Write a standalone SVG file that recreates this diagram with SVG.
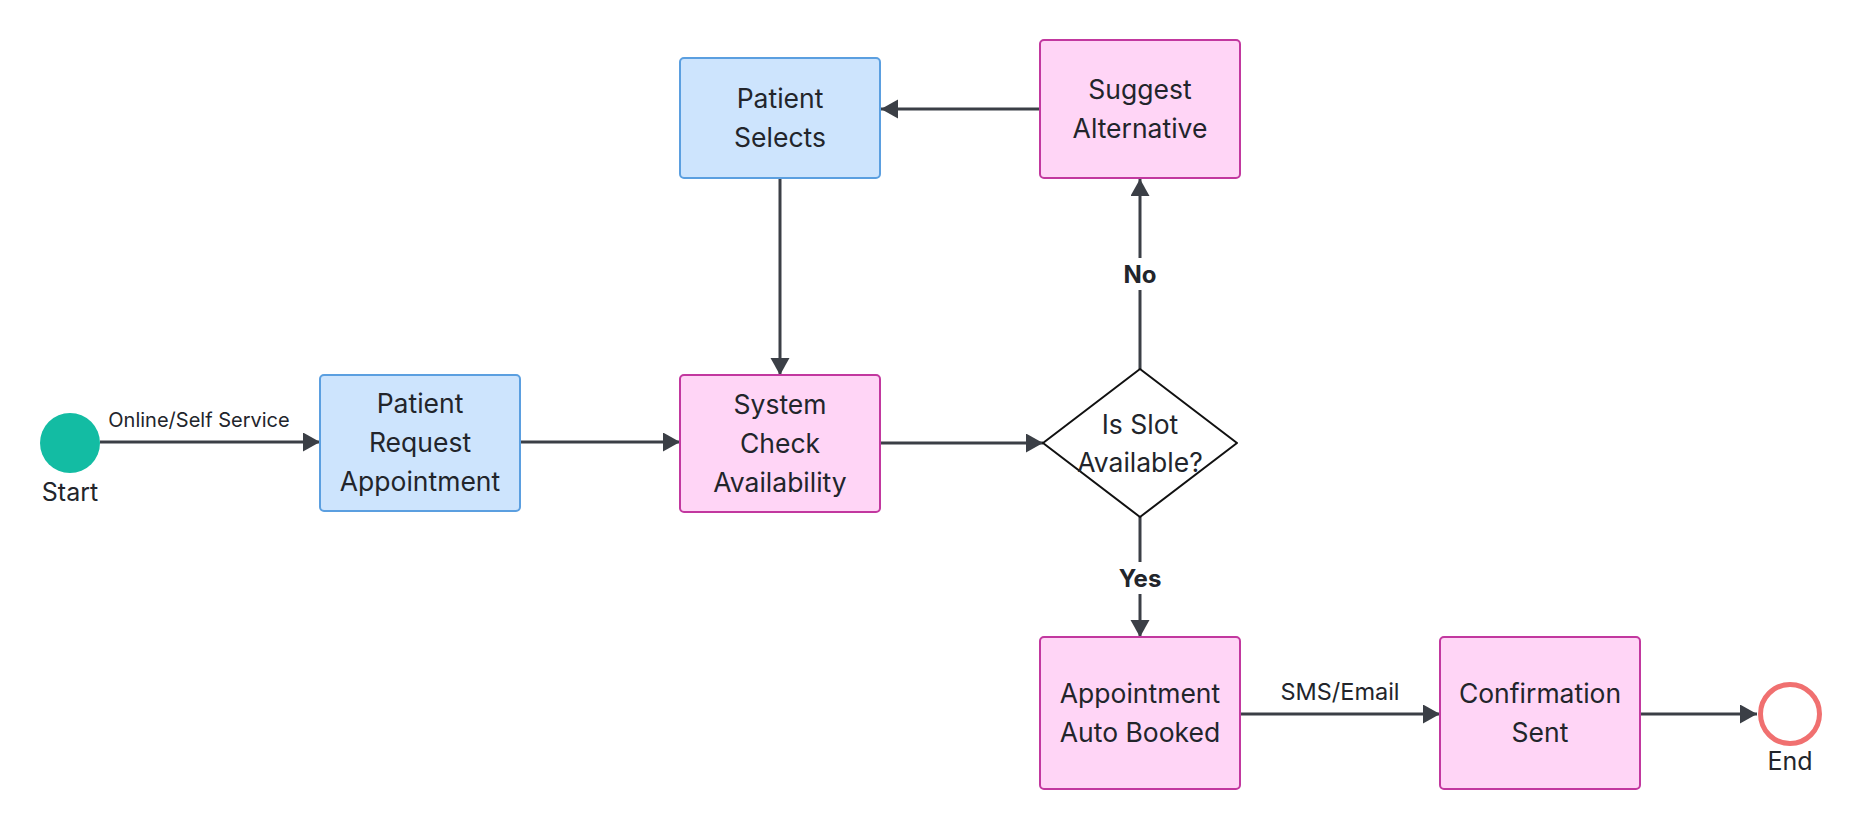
<svg xmlns="http://www.w3.org/2000/svg" width="1860" height="832" viewBox="0 0 1860 832">
  <style>
    text { font-family: Inter, "Noto Sans", "Liberation Sans", sans-serif; fill: #22252b; text-anchor: middle; }
    .lbl { font-size: 26.5px; }
    .edge { stroke: #3b3f46; stroke-width: 3; fill: none; }
    .blue { fill: #cde4fd; stroke: #5b9fe0; stroke-width: 2; }
    .pink { fill: #ffd5f6; stroke: #c2389f; stroke-width: 2; }
    .elbl { font-size: 20px; }
    .elbl2 { font-size: 23.5px; }
    .bold { font-size: 24px; font-weight: 700; }
    .term { font-size: 25px; }
  </style>
  <defs>
    <marker id="arrow" markerUnits="userSpaceOnUse" markerWidth="18" markerHeight="20" refX="17" refY="9.5" orient="auto">
      <path d="M0,0 L17,9.5 L0,19 z" fill="#3b3f46"/>
    </marker>
  </defs>
  <rect width="1860" height="832" fill="#ffffff"/>

  <g id="connectors">
    <path class="edge" d="M100,442 L320,442" marker-end="url(#arrow)"/>
    <path class="edge" d="M520,442 L680,442" marker-end="url(#arrow)"/>
    <path class="edge" d="M880,443 L1043,443" marker-end="url(#arrow)"/>
    <path class="edge" d="M1140,369 L1140,179" marker-end="url(#arrow)"/>
    <path class="edge" d="M1040,109 L881,109" marker-end="url(#arrow)"/>
    <path class="edge" d="M780,178 L780,375" marker-end="url(#arrow)"/>
    <path class="edge" d="M1140,517 L1140,637" marker-end="url(#arrow)"/>
    <path class="edge" d="M1240,714 L1440,714" marker-end="url(#arrow)"/>
    <path class="edge" d="M1640,714 L1757,714" marker-end="url(#arrow)"/>
    <text class="elbl" x="199" y="427">Online/Self Service</text>
    <rect x="1118" y="258" width="44" height="32" fill="#ffffff"/>
    <text class="bold" x="1140" y="283">No</text>
    <rect x="1114" y="562" width="52" height="32" fill="#ffffff"/>
    <text class="bold" x="1140" y="587">Yes</text>
    <text class="elbl2" x="1340" y="700">SMS/Email</text>
  </g>

  <g id="start">
    <circle cx="70" cy="443" r="30" fill="#13bca3"/>
    <text class="term" x="70" y="501">Start</text>
  </g>

  <g id="patient-request">
    <rect class="blue" x="320" y="375" width="200" height="136" rx="4"/>
    <text class="lbl" x="420" y="413">Patient</text>
    <text class="lbl" x="420" y="452">Request</text>
    <text class="lbl" x="420" y="491">Appointment</text>
  </g>

  <g id="system-check">
    <rect class="pink" x="680" y="375" width="200" height="137" rx="4"/>
    <text class="lbl" x="780" y="414">System</text>
    <text class="lbl" x="780" y="453">Check</text>
    <text class="lbl" x="780" y="492">Availability</text>
  </g>

  <g id="patient-selects">
    <rect class="blue" x="680" y="58" width="200" height="120" rx="4"/>
    <text class="lbl" x="780" y="108">Patient</text>
    <text class="lbl" x="780" y="147">Selects</text>
  </g>

  <g id="suggest-alternative">
    <rect class="pink" x="1040" y="40" width="200" height="138" rx="4"/>
    <text class="lbl" x="1140" y="99">Suggest</text>
    <text class="lbl" x="1140" y="138">Alternative</text>
  </g>

  <g id="slot-decision">
    <path d="M1140,369 L1237,443 L1140,517 L1043,443 Z" fill="#ffffff" stroke="#111111" stroke-width="2" stroke-linejoin="round"/>
    <text class="lbl" x="1140" y="434">Is Slot</text>
    <text class="lbl" x="1140" y="472">Available?</text>
  </g>

  <g id="auto-booked">
    <rect class="pink" x="1040" y="637" width="200" height="152" rx="4"/>
    <text class="lbl" x="1140" y="703">Appointment</text>
    <text class="lbl" x="1140" y="742">Auto Booked</text>
  </g>

  <g id="confirmation-sent">
    <rect class="pink" x="1440" y="637" width="200" height="152" rx="4"/>
    <text class="lbl" x="1540" y="703">Confirmation</text>
    <text class="lbl" x="1540" y="742">Sent</text>
  </g>

  <g id="end">
    <circle cx="1790" cy="714" r="29.5" fill="#ffffff" stroke="#f07070" stroke-width="5"/>
    <text class="term" x="1790" y="770">End</text>
  </g>
</svg>
